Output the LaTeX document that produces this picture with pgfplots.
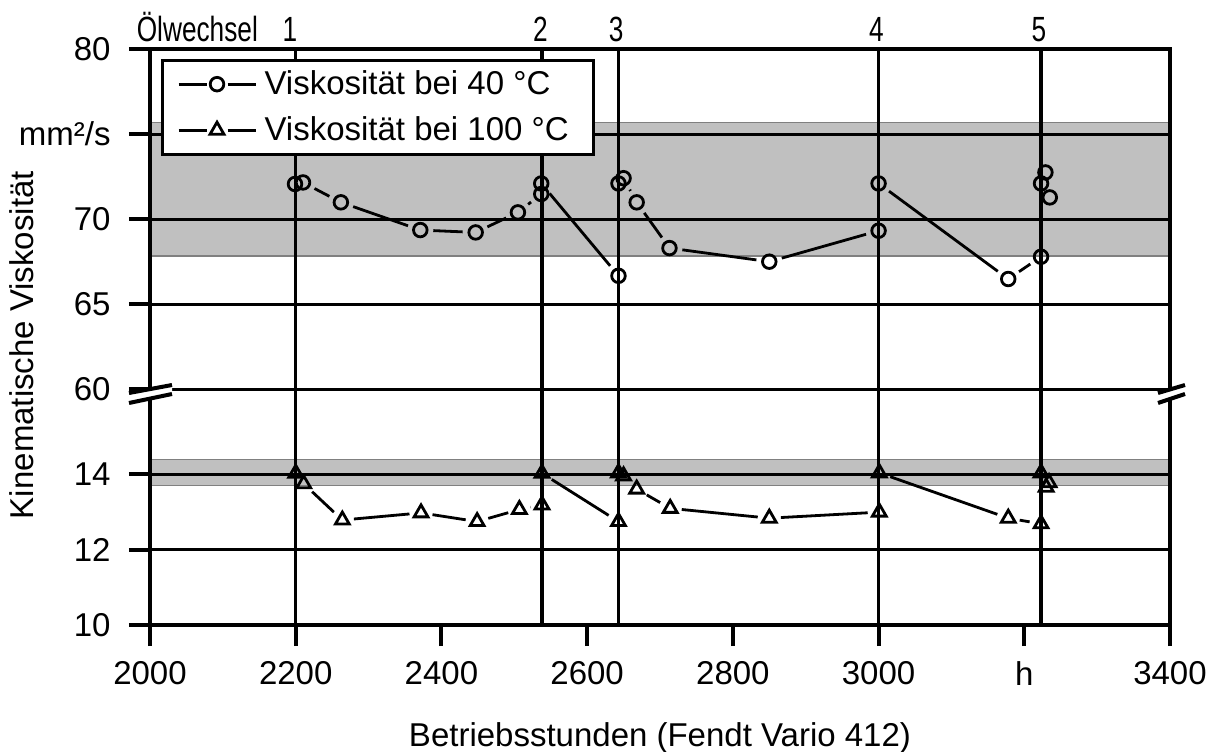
\documentclass[border=0pt]{standalone}
\usepackage{fontspec}
\setmainfont{Liberation Sans}
\newfontfamily\narrowfont[FakeStretch=0.75]{Liberation Sans}
\usepackage{pgfplots}
\usepackage{pgfplotstable}
\pgfplotsset{compat=1.18}
\definecolor{bandgray}{RGB}{192,192,192}
\newcommand{\mainfs}{\fontsize{16.5}{19.8}\selectfont}
\newcommand{\topfs}{\narrowfont\fontsize{17.5}{20}\selectfont}
\pgfplotsset{
  upper/.style={y filter/.code={\pgfmathparse{236+(\pgfmathresult-60)*17}}},
  lower/.style={y filter/.code={\pgfmathparse{(\pgfmathresult-10)*37.75}}},
  segA/.style={upper, black, line width=1.4pt, shorten <=6.5pt, shorten >=6.5pt, forget plot},
  segB/.style={lower, black, line width=1.4pt, shorten <=5.8pt, shorten >=5.8pt, forget plot},
}
\newcommand{\segA}[4]{\addplot[segA] coordinates {(#1,#2) (#3,#4)};}
\newcommand{\segB}[4]{\addplot[segB] coordinates {(#1,#2) (#3,#4)};}

% Viskositaet bei 40 C
\pgfplotstableread{
x y
2199 72.06
2210 72.15
2262 70.98
2371 69.35
2447 69.21
2505 70.39
2537 71.47
2537 72.09
2643 66.66
2643 72.09
2650 72.40
2668 70.98
2713 68.29
2850 67.49
3000 69.31
3000 72.09
3178 66.47
3223 67.78
3223 72.09
3229 72.74
3235 71.27
}\visforty
% Viskositaet bei 100 C
\pgfplotstableread{
x y
2200 14.02
2211 13.74
2264 12.78
2372 12.97
2449 12.74
2507 13.06
2538 13.18
2538 14.02
2643 12.74
2643 14.03
2650 13.95
2668 13.60
2714 13.09
2850 12.83
3001 12.99
3001 14.03
3178 12.83
3223 12.68
3223 14.03
3230 13.65
3234 13.77
}\vishundred

\begin{document}
\begin{tikzpicture}
\useasboundingbox (-75pt,-63pt) rectangle (533pt,312.5pt);
\begin{axis}[
  at={(0pt,0pt)}, anchor=south west,
  scale only axis, width=510pt, height=288pt,
  xmin=2000, xmax=3400, ymin=0, ymax=576,
  clip=false,
  axis line style={line width=2pt},
  tick style={black, line width=2pt},
  tick align=outside, major tick length=10.5pt,
  tick pos=left,
  xtick={2000,2200,2400,2600,2800,3000,3200,3400},
  xticklabels={2000,2200,2400,2600,2800,3000,h,3400},
  ytick={0,75.5,151,236,321,406,491,576},
  yticklabels={10,12,14,60,65,70,mm²/s,80},
  ymajorgrids, major grid style={black, line width=1.5pt},
  axis on top,
  ticklabel style={font=\mainfs},
  xticklabel style={anchor=north, inner sep=0pt, yshift=-7.5pt},
  yticklabel style={anchor=east, inner sep=0pt, xshift=-9pt},
  xlabel={Betriebsstunden (Fendt Vario 412)},
  ylabel={Kinematische Viskosität},
  label style={font=\mainfs},
  xlabel style={at={(axis description cs:0.5,-0.2101)}, anchor=base, inner sep=0pt},
  ylabel style={at={(axis description cs:-0.1147,0.486)}, anchor=base, inner sep=0pt},
  legend style={at={(axis description cs:0.0108,0.9832)}, anchor=north west,
    draw=black, line width=1.5pt, fill=white, font=\mainfs,
    inner xsep=0pt, inner ysep=5pt, row sep=9pt, column sep=0pt,
    nodes={inner sep=0pt, text height=12pt, text depth=2pt}},
  legend cell align=left,
]
% bands
\addplot[upper, fill=bandgray, draw=black!50, line width=0.6pt, forget plot]
  coordinates {(2000,67.82) (3400,67.82) (3400,75.68) (2000,75.68)} -- cycle;
\addplot[lower, fill=bandgray, draw=black!50, line width=0.6pt, forget plot]
  coordinates {(2000,13.70) (3400,13.70) (3400,14.38) (2000,14.38)} -- cycle;
% oil changes
\addplot[black, line width=1.7pt, forget plot] coordinates {(2200,0) (2200,576)};
\addplot[black, line width=1.7pt, forget plot] coordinates {(2538,0) (2538,576)};
\addplot[black, line width=1.7pt, forget plot] coordinates {(2643,0) (2643,576)};
\addplot[black, line width=1.7pt, forget plot] coordinates {(3000,0) (3000,576)};
\addplot[black, line width=1.7pt, forget plot] coordinates {(3223,0) (3223,576)};
\node[font=\topfs, anchor=base] at (axis cs:2065,583) {Ölwechsel};
\node[font=\topfs, anchor=base] at (axis cs:2192,583) {1};
\node[font=\topfs, anchor=base] at (axis cs:2536,583) {2};
\node[font=\topfs, anchor=base] at (axis cs:2640,583) {3};
\node[font=\topfs, anchor=base] at (axis cs:2997,583) {4};
\node[font=\topfs, anchor=base] at (axis cs:3220,583) {5};
% line segments 40 C
\segA{2210}{72.15}{2262}{70.98}
\segA{2262}{70.98}{2371}{69.35}
\segA{2371}{69.35}{2447}{69.21}
\segA{2447}{69.21}{2505}{70.39}
\segA{2505}{70.39}{2537}{71.47}
\segA{2537}{72.09}{2643}{66.66}
\segA{2650}{72.40}{2668}{70.98}
\segA{2668}{70.98}{2713}{68.29}
\segA{2713}{68.29}{2850}{67.49}
\segA{2850}{67.49}{3000}{69.31}
\segA{3000}{72.09}{3178}{66.47}
\segA{3178}{66.47}{3223}{67.78}
% line segments 100 C
\segB{2211}{13.74}{2264}{12.78}
\segB{2264}{12.78}{2372}{12.97}
\segB{2372}{12.97}{2449}{12.74}
\segB{2449}{12.74}{2507}{13.06}
\segB{2507}{13.06}{2538}{13.18}
\segB{2538}{14.02}{2643}{12.74}
\segB{2668}{13.60}{2714}{13.09}
\segB{2714}{13.09}{2850}{12.83}
\segB{2850}{12.83}{3001}{12.99}
\segB{3001}{14.03}{3178}{12.83}
\segB{3178}{12.83}{3223}{12.68}
% markers
\addplot[upper, only marks, black, mark=o, mark size=3.4pt, line width=1.4pt,
  legend image code/.code={
    \path[draw=none, fill=none] (-8pt,-4pt) rectangle (43pt,4pt);
    \draw[black, line width=1.4pt] (0pt,0pt) -- (14pt,0pt) (24.5pt,0pt) -- (38.5pt,0pt);
    \draw[black, line width=1.4pt] plot[mark=o, mark size=3.4pt] coordinates {(19.25pt,0pt)};
  }] table[x=x, y=y] {\visforty};
\addlegendentry{Viskosität bei 40 °C}
\addplot[lower, only marks, black, mark=triangle, mark size=4pt, line width=1.4pt,
  legend image code/.code={
    \path[draw=none, fill=none] (-8pt,-4pt) rectangle (43pt,4pt);
    \draw[black, line width=1.4pt] (0pt,0pt) -- (14pt,0pt) (24.5pt,0pt) -- (38.5pt,0pt);
    \draw[black, line width=1.4pt] plot[mark=triangle, mark size=4pt] coordinates {(19.25pt,0pt)};
  }] table[x=x, y=y] {\vishundred};
\addlegendentry{Viskosität bei 100 °C\hspace*{12.5pt}}
\coordinate (O) at (axis cs:2000,0);
\coordinate (brkL) at (axis cs:2000,231);
\coordinate (brkR) at (axis cs:3400,231);
\end{axis}
% outward tick stubs (x every 200 h, y at the labelled grid lines)
\foreach \i in {0,...,7}
  \draw[black, line width=2pt] ([xshift=\i*72.857pt]O) -- ++(0pt,-10.5pt);
\foreach \yy in {0,37.75,75.5,118,160.5,203,245.5,288}
  \draw[black, line width=2pt] ([yshift=\yy pt]O) -- ++(-10.5pt,0pt);
% axis break marks
\fill[white] ([shift={(-10.5pt,0.5pt)}]brkL) -- ([shift={(11pt,4.5pt)}]brkL) -- ([shift={(11pt,0pt)}]brkL) -- ([shift={(-10.5pt,-4.5pt)}]brkL) -- cycle;
\draw[black, line width=2pt] ([shift={(-10.5pt,0.5pt)}]brkL) -- ([shift={(11pt,4.5pt)}]brkL);
\draw[black, line width=2pt] ([shift={(-10.5pt,-4.5pt)}]brkL) -- ([shift={(11pt,0pt)}]brkL);
\fill[white] ([shift={(-6pt,0.5pt)}]brkR) -- ([shift={(7.5pt,4.5pt)}]brkR) -- ([shift={(7.5pt,0pt)}]brkR) -- ([shift={(-6pt,-4.5pt)}]brkR) -- cycle;
\draw[black, line width=2pt] ([shift={(-6pt,0.5pt)}]brkR) -- ([shift={(7.5pt,4.5pt)}]brkR);
\draw[black, line width=2pt] ([shift={(-6pt,-4.5pt)}]brkR) -- ([shift={(7.5pt,0pt)}]brkR);
\end{tikzpicture}
\end{document}
